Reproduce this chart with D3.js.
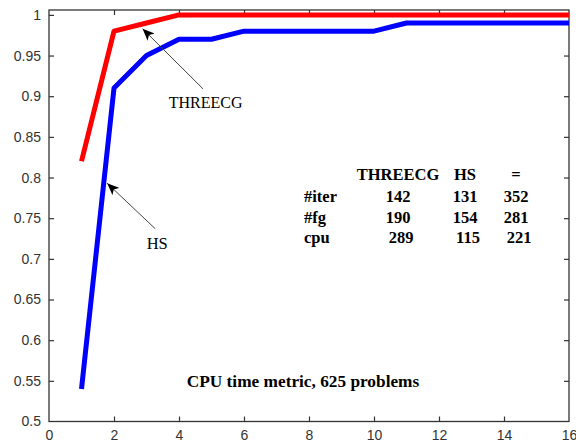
<!DOCTYPE html>
<html>
<head>
<meta charset="utf-8">
<script src="https://cdn.jsdelivr.net/npm/d3@7"></script>
<style>
  body { margin: 0; background: #fff; }
  svg { display: block; }
</style>
</head>
<body>
<div id="chart"></div>
<script>
// profile data
const xs      = [1, 2, 3, 4, 5, 6, 7, 8, 9, 10, 11, 12, 13, 14, 15, 16];
const threecg = [0.82, 0.98, 0.99, 1, 1, 1, 1, 1, 1, 1, 1, 1, 1, 1, 1, 1];
const hs      = [0.54, 0.91, 0.95, 0.97, 0.97, 0.98, 0.98, 0.98, 0.98, 0.98, 0.99, 0.99, 0.99, 0.99, 0.99, 0.99];

const xTicks = [0, 2, 4, 6, 8, 10, 12, 14, 16];
const yTicks = [0.5, 0.55, 0.6, 0.65, 0.7, 0.75, 0.8, 0.85, 0.9, 0.95, 1];

// table in the plot
const tableHead = ["THREECG", "HS", "="];
const tableRows = ["#iter", "#fg", "cpu"];
const tableVals = [[142, 131, 352], [190, 154, 281], [289, 115, 221]];
const caption = "CPU time metric, 625 problems";

const W = 576, H = 444;
const mLeft = 49, mRight = 569, mTop = 10, mBottom = 421.5;

const svg = d3.select("#chart").append("svg")
    .attr("width", W)
    .attr("height", H);

const x = d3.scaleLinear().domain([0, 16]).range([mLeft, mRight]);
const y = d3.scaleLinear().domain([0.5, 1.006]).range([mBottom, mTop]);

const axisColor = "#333";
const fmt = d => String(+d.toFixed(2));

// plot box
svg.append("rect")
    .attr("x", mLeft).attr("y", mTop)
    .attr("width", mRight - mLeft).attr("height", mBottom - mTop)
    .attr("fill", "none").attr("stroke", axisColor).attr("stroke-width", 1.3);

// inward ticks, matlab style
const tk = 5;
const xAxisB = svg.append("g").attr("transform", "translate(0," + mBottom + ")")
    .call(d3.axisBottom(x).tickValues(xTicks).tickSizeInner(-tk).tickSizeOuter(0).tickPadding(9).tickFormat(fmt));
const xAxisT = svg.append("g").attr("transform", "translate(0," + mTop + ")")
    .call(d3.axisTop(x).tickValues(xTicks).tickSizeInner(-tk).tickSizeOuter(0).tickFormat(""));
const yAxisL = svg.append("g").attr("transform", "translate(" + mLeft + ",0)")
    .call(d3.axisLeft(y).tickValues(yTicks).tickSizeInner(-tk).tickSizeOuter(0).tickPadding(8).tickFormat(fmt));
const yAxisR = svg.append("g").attr("transform", "translate(" + mRight + ",0)")
    .call(d3.axisRight(y).tickValues(yTicks).tickSizeInner(-tk).tickSizeOuter(0).tickFormat(""));

[xAxisB, xAxisT, yAxisL, yAxisR].forEach(function (g) {
    g.select(".domain").remove();
    g.selectAll(".tick line").attr("stroke", axisColor).attr("stroke-width", 1.2);
    g.selectAll(".tick text")
        .attr("fill", "#333")
        .style("font-family", "Liberation Sans, Arial, sans-serif")
        .style("font-size", "14px");
});
// drop ticks sitting on the box corners
xAxisB.selectAll(".tick line").filter(d => d == 0 || d == 16).remove();
xAxisT.selectAll(".tick line").filter(d => d == 0 || d == 16).remove();
yAxisL.selectAll(".tick line").filter(d => d == 0.5).remove();
yAxisR.selectAll(".tick line").filter(d => d == 0.5).remove();

const line = d3.line()
    .x((d, i) => x(xs[i]))
    .y(d => y(d));

svg.append("path")
    .datum(hs)
    .attr("d", line)
    .attr("fill", "none")
    .attr("stroke", "#0000ff")
    .attr("stroke-width", 5)
    .attr("stroke-linejoin", "round");

svg.append("path")
    .datum(threecg)
    .attr("d", line)
    .attr("fill", "none")
    .attr("stroke", "#ff0000")
    .attr("stroke-width", 5)
    .attr("stroke-linejoin", "round");

// arrows
svg.append("defs").append("marker")
    .attr("id", "head")
    .attr("viewBox", "0 0 12 10")
    .attr("refX", 12).attr("refY", 5)
    .attr("markerWidth", 12).attr("markerHeight", 10)
    .attr("markerUnits", "userSpaceOnUse")
    .attr("orient", "auto")
    .append("path")
    .attr("d", "M0,0 L12,5 L0,10 L3,5 Z")
    .attr("fill", "#000");

const arrows = [
    { from: [4.74, 0.909], to: [2.88, 0.983] },
    { from: [3.27, 0.737], to: [1.79, 0.793] }
];
svg.selectAll(".arrow")
    .data(arrows)
    .enter()
    .append("line")
    .attr("class", "arrow")
    .attr("x1", d => x(d.from[0])).attr("y1", d => y(d.from[1]))
    .attr("x2", d => x(d.to[0])).attr("y2", d => y(d.to[1]))
    .attr("stroke", "#444")
    .attr("stroke-width", 1)
    .attr("marker-end", "url(#head)");

const serif = "Liberation Serif, Times New Roman, serif";

svg.append("text")
    .attr("x", x(4.82)).attr("y", y(0.886))
    .attr("text-anchor", "middle")
    .style("font-family", serif).style("font-size", "16px")
    .text("THREECG");

svg.append("text")
    .attr("x", x(3.33)).attr("y", y(0.712))
    .attr("text-anchor", "middle")
    .style("font-family", serif).style("font-size", "16.5px")
    .text("HS");

// stats table
const colX = [398, 465, 516];
const rowY = [180, 202, 223, 243];
const tbl = svg.append("g")
    .style("font-family", serif).style("font-size", "16.5px").style("font-weight", "bold");

tbl.selectAll(".hd")
    .data(tableHead)
    .enter().append("text")
    .attr("x", (d, i) => colX[i]).attr("y", rowY[0])
    .attr("text-anchor", "middle")
    .text(d => d);

tableRows.forEach(function (r, j) {
    tbl.append("text")
        .attr("x", 304).attr("y", rowY[j + 1])
        .text(r);
    tbl.selectAll(".v" + j)
        .data(tableVals[j])
        .enter().append("text")
        .attr("x", (d, i) => colX[i] + (j == 2 ? 3 : 0)).attr("y", rowY[j + 1])
        .attr("text-anchor", "middle")
        .text(d => d);
});

svg.append("text")
    .attr("x", 303).attr("y", 387)
    .attr("text-anchor", "middle")
    .style("font-family", serif).style("font-size", "17.3px").style("font-weight", "bold")
    .text(caption);
</script>
</body>
</html>
